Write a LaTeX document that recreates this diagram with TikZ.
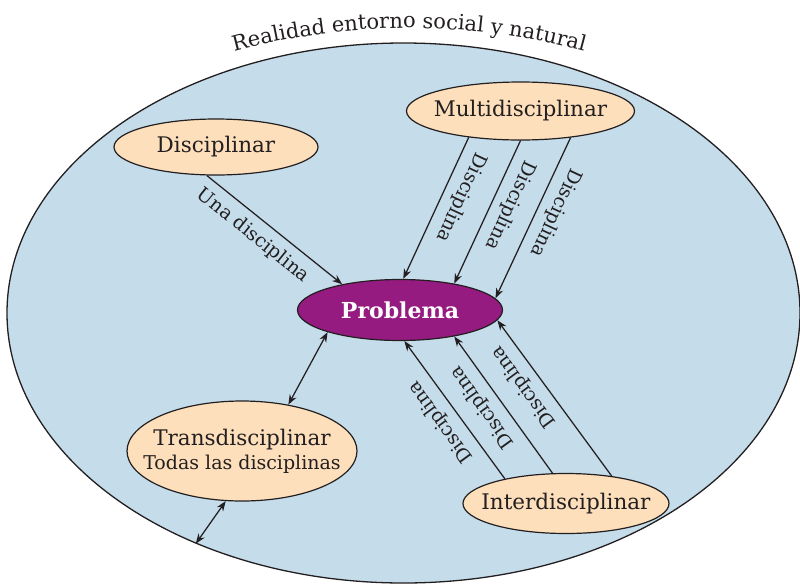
\documentclass[tikz,border=0pt]{standalone}
\usepackage{fontspec}
\setmainfont{DejaVu Serif}
\usetikzlibrary{shapes.geometric,arrows.meta,decorations.text}

\definecolor{skyfill}{RGB}{197,220,234}
\definecolor{peach}{RGB}{253,223,187}
\definecolor{plum}{RGB}{149,27,129}
\definecolor{ink}{RGB}{35,31,32}

\tikzset{
  field/.style={ellipse, draw=ink, line width=1.3pt, fill=skyfill, inner sep=0pt},
  % negative inner sep lets the minimum size alone fix each ellipse
  approach/.style={ellipse, draw=ink, line width=1.2pt, fill=peach,
    inner xsep=-90pt, inner ysep=-40pt,
    text=ink, font=\fontsize{21.5}{24}\selectfont},
  core/.style={ellipse, draw=ink, line width=1.2pt, fill=plum,
    inner xsep=-90pt, inner ysep=-40pt,
    text=white, font=\fontsize{22}{26}\selectfont\bfseries},
  link/.style={draw=ink, line width=1.25pt, -{Stealth[length=10pt,width=7.5pt]}},
  twoway/.style={draw=ink, line width=1.25pt,
    {Stealth[length=10pt,width=7.5pt]}-{Stealth[length=10pt,width=7.5pt]}},
  tag/.style={font=\fontsize{19}{22}\selectfont, text=ink, inner sep=0pt,
    sloped, allow upside down},
}

\begin{document}
\begin{tikzpicture}[x=1pt,y=-1pt]
\useasboundingbox (0,0) rectangle (800,584);

% surrounding reality
\node[field, minimum width=793pt, minimum height=540pt] (realidad) at (403.5,313) {};
\path[decorate, decoration={text along path, text align=center,
  text={|\fontsize{21}{24}\selectfont\color{ink}|Realidad entorno social y natural}}]
  (232,52) .. controls (350,20) and (468,20) .. (586,52);

% approaches
\node[approach, minimum width=204pt, minimum height=56pt] (disc) at (216,147) {Disciplinar};
\node[approach, minimum width=228pt, minimum height=58pt] (multi) at (520.5,111) {Multidisciplinar};
\node[core, minimum width=205pt, minimum height=61pt] (prob) at (400,310) {Problema};
\node[approach, minimum width=230pt, minimum height=100pt, align=center] (trans) at (242,451)
  {Transdisciplinar\\\fontsize{19}{24}\selectfont Todas las disciplinas};
\node[approach, minimum width=206pt, minimum height=60pt] (inter) at (566,503.5) {Interdisciplinar};

% disciplinary
\draw[link] (disc.252) -- (prob.156)
  node[tag, pos=0.425, below=8pt] (tagU) {Una disciplina};

% multidisciplinary
\draw[link] (multi.207) -- (prob.84)
  node[tag, pos=0.37, above=8.5pt] (tagM1) {Disciplina};
\draw[link] (multi.270) -- (prob.26)
  node[tag, pos=0.40, above=8.5pt] (tagM2) {Disciplina};
\draw[link] (multi.332) -- (prob.7)
  node[tag, pos=0.42, above=8.5pt] (tagM3) {Disciplina};

% interdisciplinary
\draw[link] (inter.158) -- (prob.278)
  node[tag, pos=0.49, above=8.5pt] (tagI1) {Disciplina};
\draw[link] (inter.114) -- (prob.334)
  node[tag, pos=0.56, above=8.5pt] (tagI2) {Disciplina};
\draw[link] (inter.31) -- (prob.354)
  node[tag, pos=0.64, above=8.5pt] (tagI3) {Disciplina};

% transdisciplinary
\draw[twoway] (trans.45) -- (prob.197);
\draw[twoway] (trans.252) -- (realidad.228);
\end{tikzpicture}
\end{document}
